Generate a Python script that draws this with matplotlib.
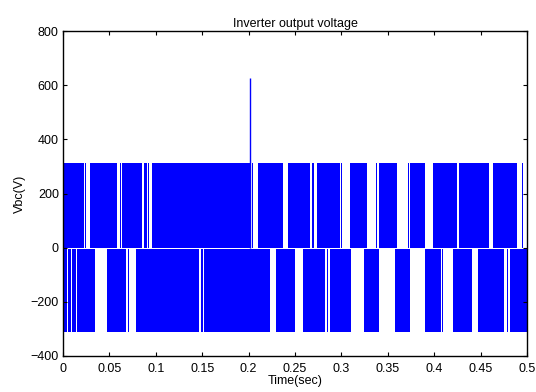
import matplotlib
matplotlib.use("Agg")
import matplotlib.pyplot as plt
import numpy as np

# PWM pulse groups (seconds)
vdc = 311
pos_start = [0.0, 0.0240, 0.0291, 0.0609, 0.0641, 0.0873, 0.0916, 0.0954, 0.2040, 0.2104,
             0.2428, 0.2686, 0.2734, 0.2996, 0.3093, 0.3373, 0.3405, 0.3721, 0.3743, 0.3990,
             0.4267, 0.4637, 0.4943]
pos_end = [0.0221, 0.0251, 0.0577, 0.0620, 0.0851, 0.0900, 0.0932, 0.2026, 0.2051, 0.2374,
           0.2662, 0.2708, 0.2985, 0.3006, 0.3273, 0.3387, 0.3596, 0.3732, 0.3901, 0.4246,
           0.4588, 0.4889, 0.4960]
neg_start = [0.0, 0.0051, 0.0100, 0.0151, 0.0476, 0.0704, 0.0787, 0.1484, 0.1519, 0.2295,
             0.2589, 0.2841, 0.2877, 0.3244, 0.3578, 0.3901, 0.4084, 0.4206, 0.4475, 0.4781,
             0.4822]
neg_end = [0.0040, 0.0086, 0.0137, 0.0345, 0.0679, 0.0714, 0.1469, 0.1505, 0.2231, 0.2500,
           0.2823, 0.2859, 0.3103, 0.3408, 0.3739, 0.4073, 0.4100, 0.4404, 0.4752, 0.4795,
           0.5000]
spike_t = 0.2015
spike_v = 625

xticks = [0, 0.05, 0.1, 0.15, 0.2, 0.25, 0.3, 0.35, 0.4, 0.45, 0.5]
xticklabels = ["0", "0.05", "0.1", "0.15", "0.2", "0.25", "0.3", "0.35", "0.4", "0.45", "0.5"]
yticks = [-400, -200, 0, 200, 400, 600, 800]

plt.rcParams["font.family"] = ["Liberation Sans", "DejaVu Sans"]
plt.rcParams["font.size"] = 9

fig = plt.figure(figsize=(5.36, 3.92), dpi=100)
ax = fig.add_axes([63 / 536, 36 / 392, 464 / 536, 325 / 392])

pos = [(s, e - s) for s, e in zip(pos_start, pos_end)]
neg = [(s, e - s) for s, e in zip(neg_start, neg_end)]
ax.broken_barh(pos, (0, vdc), facecolors="#0000ff", edgecolors="none")
ax.broken_barh(neg, (-vdc, vdc - 4), facecolors="#0000ff", edgecolors="none")
ax.vlines([spike_t], 0, [spike_v], color="#0000ff", lw=1.0)

ax.set_xlim(0, 0.5)
ax.set_ylim(-400, 800)
ax.set_xticks(xticks)
ax.set_xticklabels(xticklabels)
ax.set_yticks(yticks)
ax.tick_params(direction="in", length=3, width=0.8, top=True, right=True)
ax.tick_params(axis="x", pad=5)
ax.tick_params(axis="y", pad=3)
for sp in ax.spines.values():
    sp.set_linewidth(1.0)

ax.set_title("Inverter output voltage", fontsize=9, pad=3)
ax.set_xlabel("Time(sec)", labelpad=0)
ax.set_ylabel("Vbc(V)", labelpad=3)

fig.savefig("out.png", dpi=100)
